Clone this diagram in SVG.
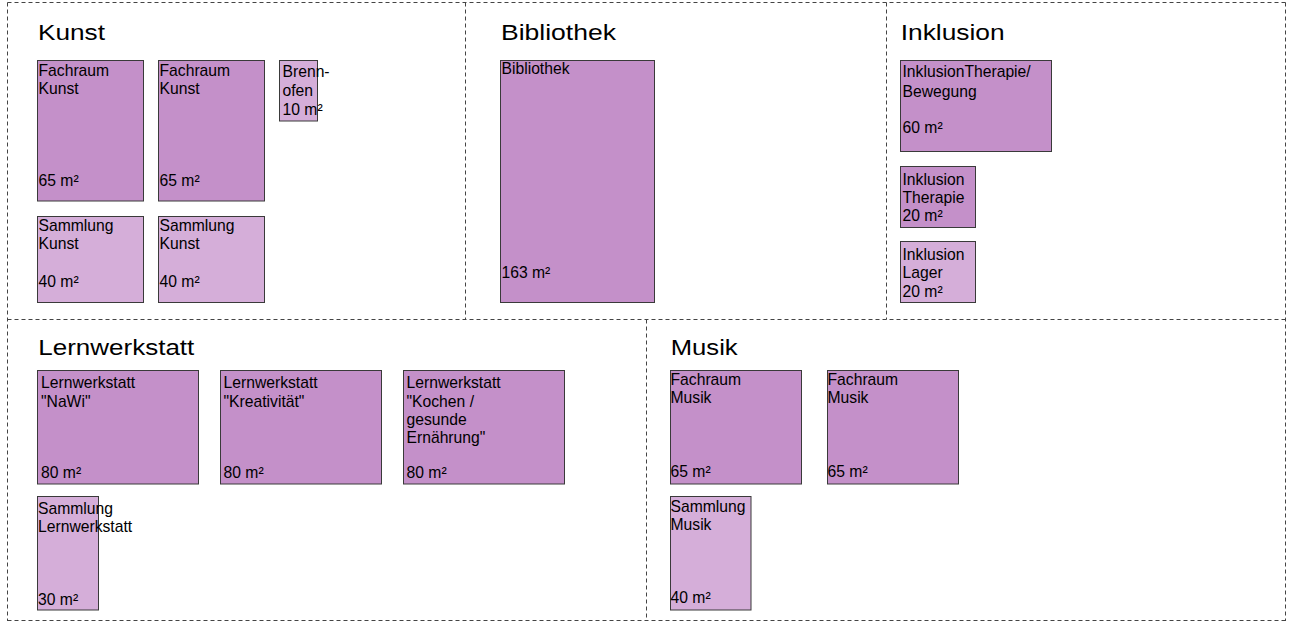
<svg xmlns="http://www.w3.org/2000/svg" width="1292" height="622" viewBox="0 0 1292 622">
  <style>
    .grid { fill: none; stroke: #444; stroke-width: 1; stroke-dasharray: 4 3; }
    .title { font-family: "Liberation Sans", Arial, sans-serif; font-size: 22.5px; fill: #000; }
    .lbl { font-family: "Liberation Sans", Arial, sans-serif; font-size: 15.7px; fill: #000; }
    .room { fill: #c490c9; stroke: #3a3a3a; stroke-width: 1; }
    .store { fill: #d5aed9; stroke: #3a3a3a; stroke-width: 1; }
  </style>
  <rect width="1292" height="622" fill="#fff"/>

  <!-- section grid -->
  <g id="grid" class="grid">
    <path d="M7.5 2.5H1285.5M7.5 319.5H1285.5M7.5 620.5H1285.5"/>
    <path d="M7.5 2.5V621M1285.5 2.5V621M465.5 2.5V319.5M886.5 2.5V319.5M646.5 319.5V621"/>
  </g>

  <!-- connectors: none in this plan -->
  <g id="connectors"/>

  <!-- Kunst -->
  <g id="kunst">
    <text class="title" x="38" y="40" textLength="67" lengthAdjust="spacingAndGlyphs">Kunst</text>
    <g id="fachraum-kunst-1">
      <rect class="room" x="37.5" y="60.5" width="106" height="140.5"/>
      <text class="lbl" x="38.5" y="75.7">Fachraum</text>
      <text class="lbl" x="38.5" y="94">Kunst</text>
      <text class="lbl" x="38.5" y="185.7">65 m²</text>
    </g>
    <g id="fachraum-kunst-2">
      <rect class="room" x="158.5" y="60.5" width="106" height="140.5"/>
      <text class="lbl" x="159.5" y="75.7">Fachraum</text>
      <text class="lbl" x="159.5" y="94">Kunst</text>
      <text class="lbl" x="159.5" y="185.7">65 m²</text>
    </g>
    <g id="brennofen">
      <rect class="store" x="279.5" y="60.5" width="38" height="60.5"/>
      <text class="lbl" x="282.5" y="77.3">Brenn-</text>
      <text class="lbl" x="282.5" y="96">ofen</text>
      <text class="lbl" x="282.5" y="115">10 m²</text>
    </g>
    <g id="sammlung-kunst-1">
      <rect class="store" x="37.5" y="216.5" width="106" height="86"/>
      <text class="lbl" x="38.5" y="230.7">Sammlung</text>
      <text class="lbl" x="38.5" y="249.3">Kunst</text>
      <text class="lbl" x="38.5" y="286.7">40 m²</text>
    </g>
    <g id="sammlung-kunst-2">
      <rect class="store" x="158.5" y="216.5" width="106" height="86"/>
      <text class="lbl" x="159.5" y="230.7">Sammlung</text>
      <text class="lbl" x="159.5" y="249.3">Kunst</text>
      <text class="lbl" x="159.5" y="286.7">40 m²</text>
    </g>
  </g>

  <!-- Bibliothek -->
  <g id="bibliothek-bereich">
    <text class="title" x="501" y="40" textLength="115" lengthAdjust="spacingAndGlyphs">Bibliothek</text>
    <g id="bibliothek">
      <rect class="room" x="500.5" y="60.5" width="154" height="242"/>
      <text class="lbl" x="501.5" y="74">Bibliothek</text>
      <text class="lbl" x="501.5" y="277.7">163 m²</text>
    </g>
  </g>

  <!-- Inklusion -->
  <g id="inklusion">
    <text class="title" x="900.7" y="40" textLength="104" lengthAdjust="spacingAndGlyphs">Inklusion</text>
    <g id="inklusion-therapie-bewegung">
      <rect class="room" x="900.5" y="60.5" width="151" height="91"/>
      <text class="lbl" x="902.5" y="77.3">InklusionTherapie/</text>
      <text class="lbl" x="902.5" y="96.7">Bewegung</text>
      <text class="lbl" x="902.5" y="132.7">60 m²</text>
    </g>
    <g id="inklusion-therapie">
      <rect class="room" x="900.5" y="166.5" width="75" height="61"/>
      <text class="lbl" x="902.5" y="185.3">Inklusion</text>
      <text class="lbl" x="902.5" y="203.3">Therapie</text>
      <text class="lbl" x="902.5" y="221.3">20 m²</text>
    </g>
    <g id="inklusion-lager">
      <rect class="store" x="900.5" y="241.5" width="75" height="61"/>
      <text class="lbl" x="902.5" y="260">Inklusion</text>
      <text class="lbl" x="902.5" y="278">Lager</text>
      <text class="lbl" x="902.5" y="296.7">20 m²</text>
    </g>
  </g>

  <!-- Lernwerkstatt -->
  <g id="lernwerkstatt">
    <text class="title" x="38.3" y="355" textLength="156" lengthAdjust="spacingAndGlyphs">Lernwerkstatt</text>
    <g id="lernwerkstatt-nawi">
      <rect class="room" x="37.5" y="370.5" width="161" height="113.5"/>
      <text class="lbl" x="41" y="388.3">Lernwerkstatt</text>
      <text class="lbl" x="41" y="406.7">"NaWi"</text>
      <text class="lbl" x="41" y="478.3">80 m²</text>
    </g>
    <g id="lernwerkstatt-kreativitaet">
      <rect class="room" x="220.5" y="370.5" width="161" height="113.5"/>
      <text class="lbl" x="223.5" y="388.3">Lernwerkstatt</text>
      <text class="lbl" x="223.5" y="406.7">"Kreativität"</text>
      <text class="lbl" x="223.5" y="478.3">80 m²</text>
    </g>
    <g id="lernwerkstatt-kochen">
      <rect class="room" x="403.5" y="370.5" width="161" height="113.5"/>
      <text class="lbl" x="406.5" y="388.3">Lernwerkstatt</text>
      <text class="lbl" x="406.5" y="406.7">"Kochen /</text>
      <text class="lbl" x="406.5" y="425">gesunde</text>
      <text class="lbl" x="406.5" y="443.3">Ernährung"</text>
      <text class="lbl" x="406.5" y="478.3">80 m²</text>
    </g>
    <g id="sammlung-lernwerkstatt">
      <rect class="store" x="37.5" y="496.5" width="61" height="113.5"/>
      <text class="lbl" x="38" y="514">Sammlung</text>
      <text class="lbl" x="38" y="531.7">Lernwerkstatt</text>
      <text class="lbl" x="38" y="605">30 m²</text>
    </g>
  </g>

  <!-- Musik -->
  <g id="musik">
    <text class="title" x="670.7" y="355" textLength="67" lengthAdjust="spacingAndGlyphs">Musik</text>
    <g id="fachraum-musik-1">
      <rect class="room" x="670.5" y="370.5" width="131" height="113.5"/>
      <text class="lbl" x="670.5" y="385">Fachraum</text>
      <text class="lbl" x="670.5" y="402.7">Musik</text>
      <text class="lbl" x="670.5" y="476.7">65 m²</text>
    </g>
    <g id="fachraum-musik-2">
      <rect class="room" x="827.5" y="370.5" width="131" height="113.5"/>
      <text class="lbl" x="827.5" y="385">Fachraum</text>
      <text class="lbl" x="827.5" y="402.7">Musik</text>
      <text class="lbl" x="827.5" y="476.7">65 m²</text>
    </g>
    <g id="sammlung-musik">
      <rect class="store" x="670.5" y="496.5" width="80.5" height="113.5"/>
      <text class="lbl" x="670.5" y="511.7">Sammlung</text>
      <text class="lbl" x="670.5" y="530">Musik</text>
      <text class="lbl" x="670.5" y="602.7">40 m²</text>
    </g>
  </g>
</svg>
